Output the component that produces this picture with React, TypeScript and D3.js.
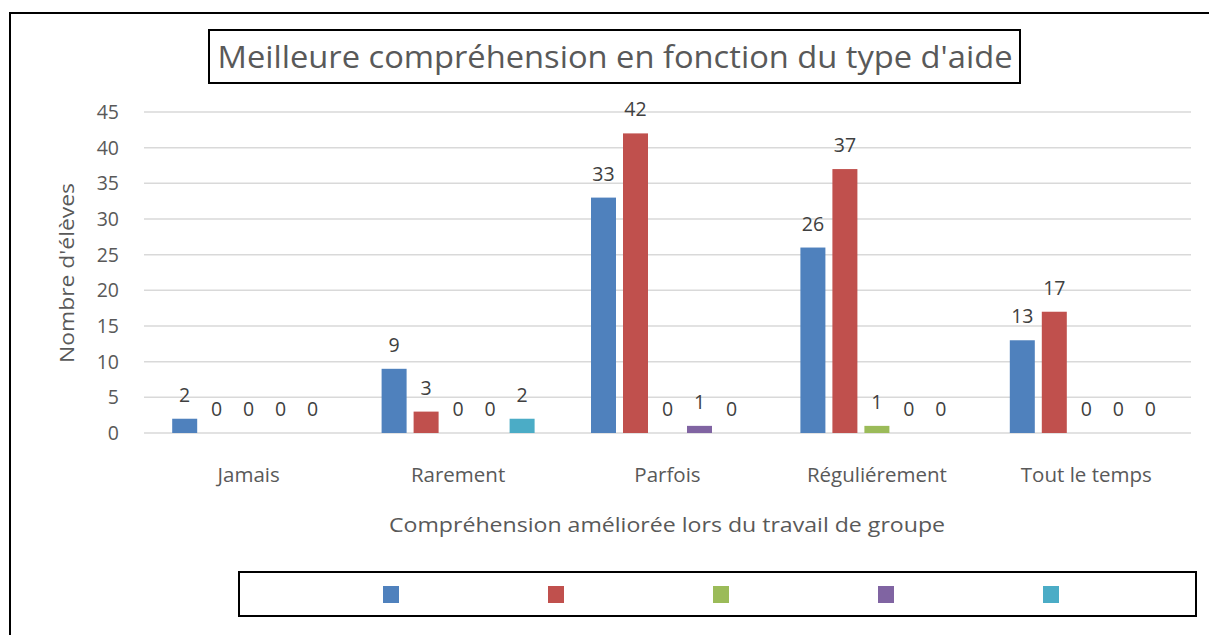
import React from "react";
import * as d3 from "d3";

const categories = ["Jamais", "Rarement", "Parfois", "Réguliérement", "Tout le temps"];
const seriesNames = ["S1", "S2", "S3", "S4", "S5"];
const s1 = [2, 9, 33, 26, 13];
const s2 = [0, 3, 42, 37, 17];
const s3 = [0, 0, 0, 1, 0];
const s4 = [0, 0, 1, 0, 0];
const s5 = [0, 2, 0, 0, 0];
const seriesValues = [s1, s2, s3, s4, s5];
const colors = ["#4F81BD", "#C0504D", "#9BBB59", "#8064A2", "#4BACC6"];
const yTicks = [0, 5, 10, 15, 20, 25, 30, 35, 40, 45];

const W = 1209;
const H = 635;
const plot = { left: 144, right: 1191, top: 112, bottom: 433 };
const FONT = "'Open Sans', sans-serif";
const TXT = "#595959";

export default function App() {
  const x0 = d3.scaleBand<string>().domain(categories).range([plot.left, plot.right]).paddingInner(0).paddingOuter(0);
  const groupWidth = 153;
  const x1 = d3
    .scaleBand<string>()
    .domain(seriesNames)
    .range([0, groupWidth])
    .paddingInner(7 / 32)
    .paddingOuter(0);
  const y = d3.scaleLinear().domain([0, 45]).range([plot.bottom, plot.top]);

  return (
    <svg
      width={W}
      height={H}
      style={{ position: "absolute", left: 0, top: 0, background: "#fff" }}
      fontFamily={FONT}
    >
      <rect x={0} y={0} width={W} height={H} fill="#fff" />
      {/* outer frame */}
      <path d={`M10,${H} L10,13 L${W},13`} fill="none" stroke="#000" strokeWidth={2} />

      {/* gridlines */}
      {yTicks.map((t) => (
        <line key={t} x1={plot.left} x2={plot.right} y1={y(t)} y2={y(t)} stroke="#D9D9D9" strokeWidth={1.5} />
      ))}
      {/* y tick labels */}
      {yTicks.map((t) => (
        <text key={"l" + t} x={119} y={y(t)} dy="0.36em" textAnchor="end" fontSize={19.5} fill={TXT}>
          {t}
        </text>
      ))}

      {/* bars */}
      {categories.map((c, ci) => {
        const gx = (x0(c) as number) + (x0.bandwidth() - groupWidth) / 2;
        return (
          <g key={c}>
            {seriesNames.map((s, si) => {
              const v = seriesValues[si][ci];
              const bx = gx + (x1(s) as number);
              return (
                <g key={s}>
                  <rect x={bx} y={y(v)} width={x1.bandwidth()} height={y(0) - y(v)} fill={colors[si]} />
                  <text
                    x={bx + x1.bandwidth() / 2}
                    y={y(v) - 17}
                    textAnchor="middle"
                    fontSize={19.5}
                    fill="#404040"
                  >
                    {v}
                  </text>
                </g>
              );
            })}
            <text
              x={(x0(c) as number) + x0.bandwidth() / 2}
              y={482}
              textAnchor="middle"
              fontSize={20.5}
              fill={TXT}
            >
              {c}
            </text>
          </g>
        );
      })}

      {/* title */}
      <rect x={209} y={30} width={811} height={53} fill="#fff" stroke="#000" strokeWidth={2} />
      <text x={615} y={68} textAnchor="middle" fontSize={31} fill={TXT} textLength={795} lengthAdjust="spacingAndGlyphs">
        Meilleure compréhension en fonction du type d'aide
      </text>

      {/* axis titles */}
      <text
        transform={`translate(74,273) rotate(-90)`}
        textAnchor="middle"
        fontSize={20}
        fill={TXT}
        textLength={180}
        lengthAdjust="spacingAndGlyphs"
      >
        Nombre d'élèves
      </text>
      <text x={667} y={532} textAnchor="middle" fontSize={20} fill={TXT} textLength={556} lengthAdjust="spacingAndGlyphs">
        Compréhension améliorée lors du travail de groupe
      </text>

      {/* legend */}
      <rect x={239} y={572} width={957} height={44} fill="#fff" stroke="#000" strokeWidth={2} />
      {seriesNames.map((s, i) => (
        <rect key={s} x={383 + i * 165} y={586} width={16} height={17} fill={colors[i]} />
      ))}
    </svg>
  );
}
